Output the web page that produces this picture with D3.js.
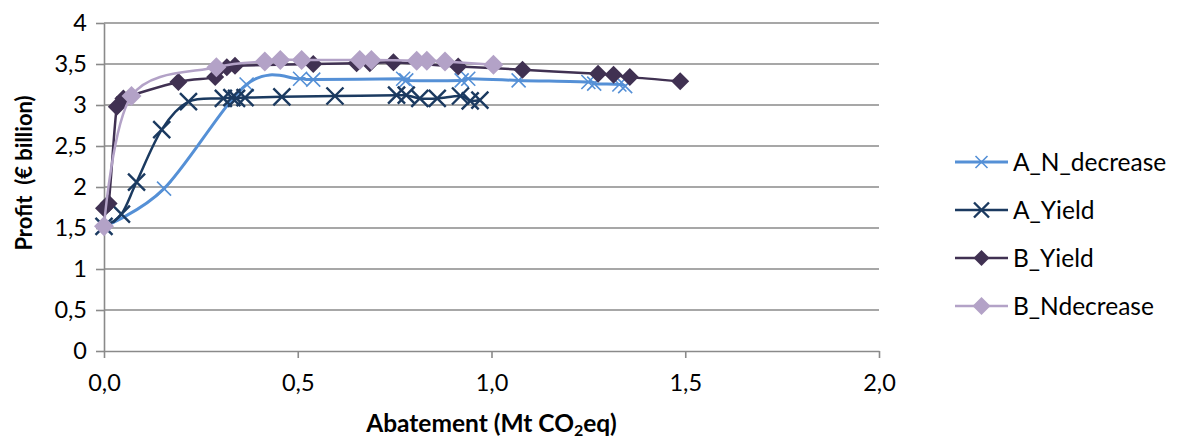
<!DOCTYPE html>
<html>
<head>
<meta charset="utf-8">
<script src="https://cdn.jsdelivr.net/npm/d3@7"></script>
<style>
  html, body { margin: 0; padding: 0; background: #fff; }
  svg { display: block; font-family: Lato, "Open Sans", sans-serif; }
</style>
</head>
<body>
<svg id="chart" width="1180" height="441"></svg>
<script>
// Abatement (Mt CO2eq) vs profit (€ billion) for four scenarios
const seriesNames = ["A_N_decrease", "A_Yield", "B_Yield", "B_Ndecrease"];

const aNdecreaseX = [0, 0.155, 0.368, 0.506, 0.54, 0.772, 0.78, 0.923, 0.94, 1.07, 1.25, 1.265, 1.33, 1.345];
const aNdecreaseY = [1.52, 1.98, 3.25, 3.32, 3.31, 3.32, 3.30, 3.30, 3.32, 3.30, 3.28, 3.26, 3.25, 3.23];

const aYieldX = [0, 0.045, 0.084, 0.149, 0.218, 0.308, 0.33, 0.342, 0.364, 0.459, 0.596, 0.755, 0.78, 0.815, 0.86, 0.92, 0.945, 0.97];
const aYieldY = [1.52, 1.67, 2.06, 2.70, 3.04, 3.08, 3.09, 3.08, 3.09, 3.10, 3.11, 3.12, 3.12, 3.08, 3.08, 3.11, 3.05, 3.06];

const bYieldX = [0, 0.012, 0.033, 0.05, 0.192, 0.287, 0.317, 0.338, 0.54, 0.652, 0.686, 0.747, 0.914, 1.08, 1.275, 1.315, 1.357, 1.487];
const bYieldY = [1.74, 1.80, 2.98, 3.08, 3.28, 3.34, 3.46, 3.48, 3.50, 3.51, 3.51, 3.52, 3.47, 3.43, 3.38, 3.37, 3.34, 3.29];

const bNdecreaseX = [0, 0.071, 0.29, 0.415, 0.455, 0.51, 0.66, 0.69, 0.807, 0.833, 0.88, 1.005];
const bNdecreaseY = [1.52, 3.11, 3.46, 3.53, 3.55, 3.55, 3.55, 3.55, 3.54, 3.54, 3.53, 3.49];

const xTickValues = [0, 0.5, 1, 1.5, 2];
const xTickLabels = ["0,0", "0,5", "1,0", "1,5", "2,0"];
const yTickValues = [0, 0.5, 1, 1.5, 2, 2.5, 3, 3.5, 4];
const yTickLabels = ["0", "0,5", "1", "1,5", "2", "2,5", "3", "3,5", "4"];

const series = [
  { name: seriesNames[0], xs: aNdecreaseX, ys: aNdecreaseY, color: "#5590d6", width: 3,   marker: "x", size: 7,   mw: 1.6 },
  { name: seriesNames[1], xs: aYieldX,     ys: aYieldY,     color: "#1b3a60", width: 2.5, marker: "x", size: 8.5, mw: 2.4 },
  { name: seriesNames[2], xs: bYieldX,     ys: bYieldY,     color: "#403152", width: 2.5, marker: "d", size: 9,   mw: 0 },
  { name: seriesNames[3], xs: bNdecreaseX, ys: bNdecreaseY, color: "#b3a2c7", width: 2.5, marker: "d", size: 10,  mw: 0 }
];

const svg = d3.select("#chart");
const plot = { left: 104, right: 879, top: 23, bottom: 351 };

const x = d3.scaleLinear().domain([0, 2]).range([plot.left, plot.right]);
const y = d3.scaleLinear().domain([0, 4]).range([plot.bottom, plot.top]);

const gridColor = "#8a8a8a";

// horizontal gridlines
svg.append("g")
  .selectAll("line")
  .data(yTickValues.filter(v => v > 0))
  .join("line")
  .attr("x1", plot.left).attr("x2", plot.right)
  .attr("y1", d => y(d)).attr("y2", d => y(d))
  .attr("stroke", gridColor).attr("stroke-width", 1.6);

// y axis
const yAxis = d3.axisLeft(y)
  .tickValues(yTickValues)
  .tickFormat((d, i) => yTickLabels[i])
  .tickSizeInner(8).tickSizeOuter(0).tickPadding(9);
const gy = svg.append("g").attr("transform", `translate(${plot.left},0)`).call(yAxis);

// x axis
const xAxis = d3.axisBottom(x)
  .tickValues(xTickValues)
  .tickFormat((d, i) => xTickLabels[i])
  .tickSizeInner(7).tickSizeOuter(0).tickPadding(16);
const gx = svg.append("g").attr("transform", `translate(0,${plot.bottom})`).call(xAxis);

[gx, gy].forEach(g => {
  g.select(".domain").attr("stroke", gridColor).attr("stroke-width", 1.6);
  g.selectAll(".tick line").attr("stroke", gridColor).attr("stroke-width", 1.6);
  g.selectAll(".tick text")
    .attr("fill", "#000")
    .style("font-family", "Lato, 'Open Sans', sans-serif")
    .style("font-size", "23.5px");
});

// marker shapes
function markerPath(kind, s) {
  if (kind === "x") return `M${-s},${-s}L${s},${s}M${-s},${s}L${s},${-s}`;
  return `M0,${-s}L${s},0L0,${s}L${-s},0Z`;
}

const line = d3.line()
  .x(d => x(d[0]))
  .y(d => y(d[1]))
  .curve(d3.curveCardinal.tension(0));

series.forEach(s => {
  const pts = s.xs.map((v, i) => [v, s.ys[i]]);
  const g = svg.append("g");
  g.append("path")
    .attr("d", line(pts))
    .attr("fill", "none")
    .attr("stroke", s.color)
    .attr("stroke-width", s.width)
    .attr("stroke-linejoin", "round");
  g.selectAll("path.m")
    .data(pts)
    .join("path")
    .attr("class", "m")
    .attr("transform", d => `translate(${x(d[0])},${y(d[1])})`)
    .attr("d", markerPath(s.marker, s.size))
    .attr("fill", s.marker === "d" ? s.color : "none")
    .attr("stroke", s.color)
    .attr("stroke-width", s.marker === "x" ? s.mw : 0);
});

// axis titles
svg.append("text")
  .attr("x", (plot.left + plot.right) / 2)
  .attr("y", 432)
  .attr("text-anchor", "middle")
  .style("font-size", "24.5px")
  .style("font-weight", "bold")
  .html('Abatement (Mt CO<tspan dy="4" font-size="16px">2</tspan><tspan dy="-4">eq)</tspan>');

svg.append("text")
  .attr("transform", "translate(32,173) rotate(-90)")
  .attr("text-anchor", "middle")
  .style("font-size", "22px")
  .style("font-weight", "bold")
  .style("white-space", "pre")
  .text("Profit  (€ billion)");

// legend
const legend = svg.append("g").attr("transform", "translate(955,162)");
series.forEach((s, i) => {
  const row = legend.append("g").attr("transform", `translate(0,${i * 48})`);
  row.append("line")
    .attr("x1", 0).attr("x2", 53)
    .attr("stroke", s.color).attr("stroke-width", s.width);
  row.append("path")
    .attr("transform", "translate(26.5,0)")
    .attr("d", markerPath(s.marker, s.size - 1))
    .attr("fill", s.marker === "d" ? s.color : "none")
    .attr("stroke", s.color)
    .attr("stroke-width", s.marker === "x" ? s.mw : 0);
  row.append("text")
    .attr("x", 58).attr("y", 9)
    .style("font-size", "24.5px")
    .text(s.name);
});
</script>
</body>
</html>
